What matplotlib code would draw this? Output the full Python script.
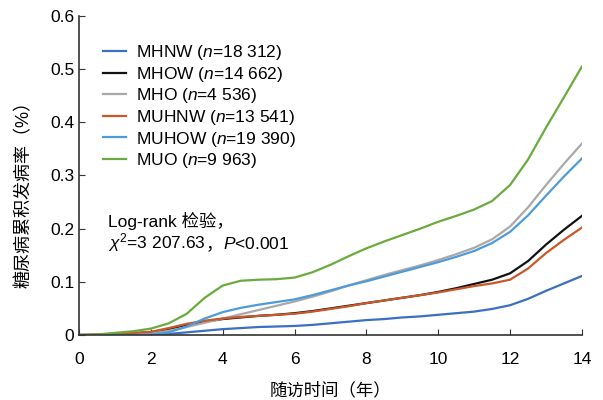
import matplotlib
matplotlib.use("Agg")
import matplotlib.pyplot as plt

plt.rcParams['font.family'] = ['Liberation Sans', 'Noto Sans CJK SC']
plt.rcParams['mathtext.fontset'] = 'custom'
plt.rcParams['mathtext.rm'] = 'Liberation Sans'
plt.rcParams['mathtext.it'] = 'Liberation Sans:italic'

# follow-up years
years = [0, 0.5, 1, 1.5, 2, 2.5, 3, 3.5, 4, 4.5, 5, 5.5, 6, 6.5, 7, 7.5,
         8, 8.5, 9, 9.5, 10, 10.5, 11, 11.5, 12, 12.5, 13, 13.5, 14]

mhnw = [0, 0, 0, 0, 0, .002, .005, .008, .011, .013, .015, .016, .017, .019, .022, .025,
        .028, .030, .033, .035, .038, .041, .044, .049, .056, .068, .083, .097, .111]
mhow = [0, 0, .001, .003, .005, .011, .019, .025, .030, .033, .036, .038, .041, .045, .050, .055,
        .060, .065, .070, .075, .081, .088, .096, .104, .116, .139, .170, .198, .224]
mho = [0, 0, 0, .001, .003, .008, .015, .023, .031, .039, .047, .055, .063, .072, .082, .093,
       .103, .113, .122, .131, .141, .152, .164, .180, .204, .240, .282, .322, .360]
muhnw = [0, .001, .002, .004, .006, .013, .021, .027, .031, .034, .036, .038, .040, .044, .049, .054,
         .060, .065, .070, .075, .080, .086, .092, .097, .104, .125, .154, .179, .202]
muhow = [0, 0, 0, 0, .001, .005, .016, .031, .043, .051, .057, .062, .067, .075, .084, .093,
         .101, .110, .119, .128, .137, .147, .158, .173, .194, .225, .262, .298, .332]
muo = [0, .001, .004, .007, .012, .022, .040, .070, .093, .102, .104, .105, .108, .118, .132, .148,
       .163, .176, .188, .200, .213, .224, .236, .252, .282, .330, .390, .447, .505]

labels = ['MHNW ($n$=18 312)', 'MHOW ($n$=14 662)', 'MHO ($n$=4 536)',
          'MUHNW ($n$=13 541)', 'MUHOW ($n$=19 390)', 'MUO ($n$=9 963)']
series = [mhnw, mhow, mho, muhnw, muhow, muo]
colors = ['#3b6fc2', '#111111', '#a9a9a9', '#c9582a', '#4d9bd9', '#6aaa3e']

fig = plt.figure(figsize=(6.03, 4.0), dpi=100)
ax = fig.add_axes([0.131, 0.1625, 0.834, 0.7975])

for vals, lab, c in zip(series, labels, colors):
    ax.plot(years, vals, color=c, lw=1.6, label=lab)

ax.set_xlim(0, 14)
ax.set_ylim(0, 0.6)
ax.set_xticks(range(0, 15, 2))
ax.set_yticks([0, 0.1, 0.2, 0.3, 0.4, 0.5, 0.6])
ax.set_yticklabels(['0', '0.1', '0.2', '0.3', '0.4', '0.5', '0.6'])
ax.tick_params(direction='in', length=4, labelsize=12.5, color='#333333')
ax.tick_params(axis='x', pad=12.5)
ax.spines['top'].set_visible(False)
ax.spines['right'].set_visible(False)
for s in ('left', 'bottom'):
    ax.spines[s].set_color('#333333')
    ax.spines[s].set_linewidth(1.2)

ax.set_xlabel('随访时间（年）', fontsize=12.5, labelpad=10)
ax.set_ylabel('糖尿病累积发病率（%）', fontsize=13)
ax.yaxis.set_label_coords(-0.092, 0.455)

ax.legend(loc='upper left', bbox_to_anchor=(0.048, 0.915), frameon=False,
          fontsize=12.5, handlelength=1.3, labelspacing=0.15, handletextpad=0.6,
          borderpad=0, borderaxespad=0)

# Log-rank annotation, built from pieces so the full-width comma keeps its font
tx = 0.057
ax.text(tx, 0.339, 'Log-rank 检验，', transform=ax.transAxes, fontsize=12.5, va='baseline')
fig.canvas.draw()
r = fig.canvas.get_renderer()
pieces = [r'$\chi^2$=3 207.63', '，', r'$P$<0.001']
x = tx
for p in pieces:
    t = ax.text(x, 0.27, p, transform=ax.transAxes, fontsize=12.5, va='baseline')
    bb = t.get_window_extent(renderer=r)
    x += bb.width / ax.bbox.width

fig.savefig('out.png', dpi=100)
